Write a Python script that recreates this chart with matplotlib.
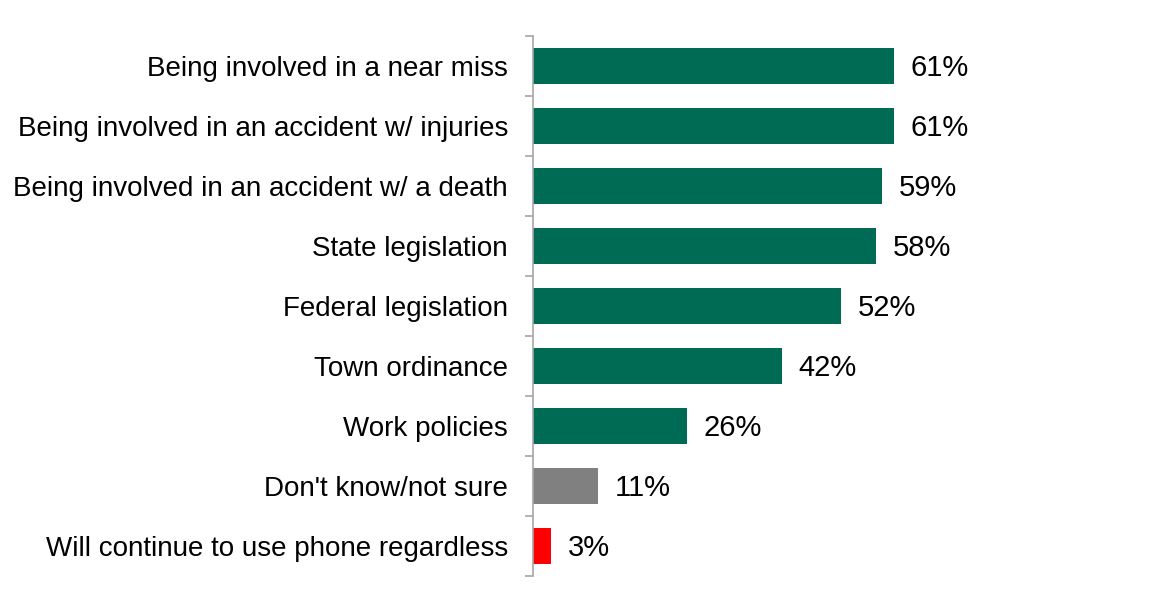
import matplotlib
matplotlib.use("Agg")
import matplotlib.pyplot as plt
import numpy as np

categories = [
    "Being involved in a near miss",
    "Being involved in an accident w/ injuries",
    "Being involved in an accident w/ a death",
    "State legislation",
    "Federal legislation",
    "Town ordinance",
    "Work policies",
    "Don't know/not sure",
    "Will continue to use phone regardless",
]
values = [61, 61, 59, 58, 52, 42, 26, 11, 3]
colors = ["#006B54"] * 7 + ["#808080", "#FF0000"]

plt.rcParams["font.family"] = ["Liberation Sans", "DejaVu Sans"]

fig = plt.figure(figsize=(11.49, 6.04), dpi=100)
ax = fig.add_axes([533 / 1149, 28 / 604, 592 / 1149, 540 / 604])

y = np.arange(len(categories))
ax.barh(y, values, height=0.6, color=colors)

for yi, v in zip(y, values):
    ax.annotate(f"{v}%", xy=(v, yi), xytext=(12, -1.5), textcoords="offset points",
                va="center", ha="left", fontsize=21, color="black")

ax.set_ylim(len(categories) - 0.5, -0.5)
ax.set_xlim(0, 100)

ax.set_yticks(y)
ax.set_yticklabels(categories, fontsize=20)
ax.tick_params(axis="y", which="major", length=0, pad=18)
ax.set_yticks(np.arange(-0.5, len(categories)), minor=True)
ax.tick_params(axis="y", which="minor", length=6, width=1.2, color="#A6A6A6")

ax.set_xticks([])
for side in ["top", "right", "bottom"]:
    ax.spines[side].set_visible(False)
ax.spines["left"].set_color("#A6A6A6")
ax.spines["left"].set_linewidth(1.2)

fig.savefig("out.png", dpi=100)
